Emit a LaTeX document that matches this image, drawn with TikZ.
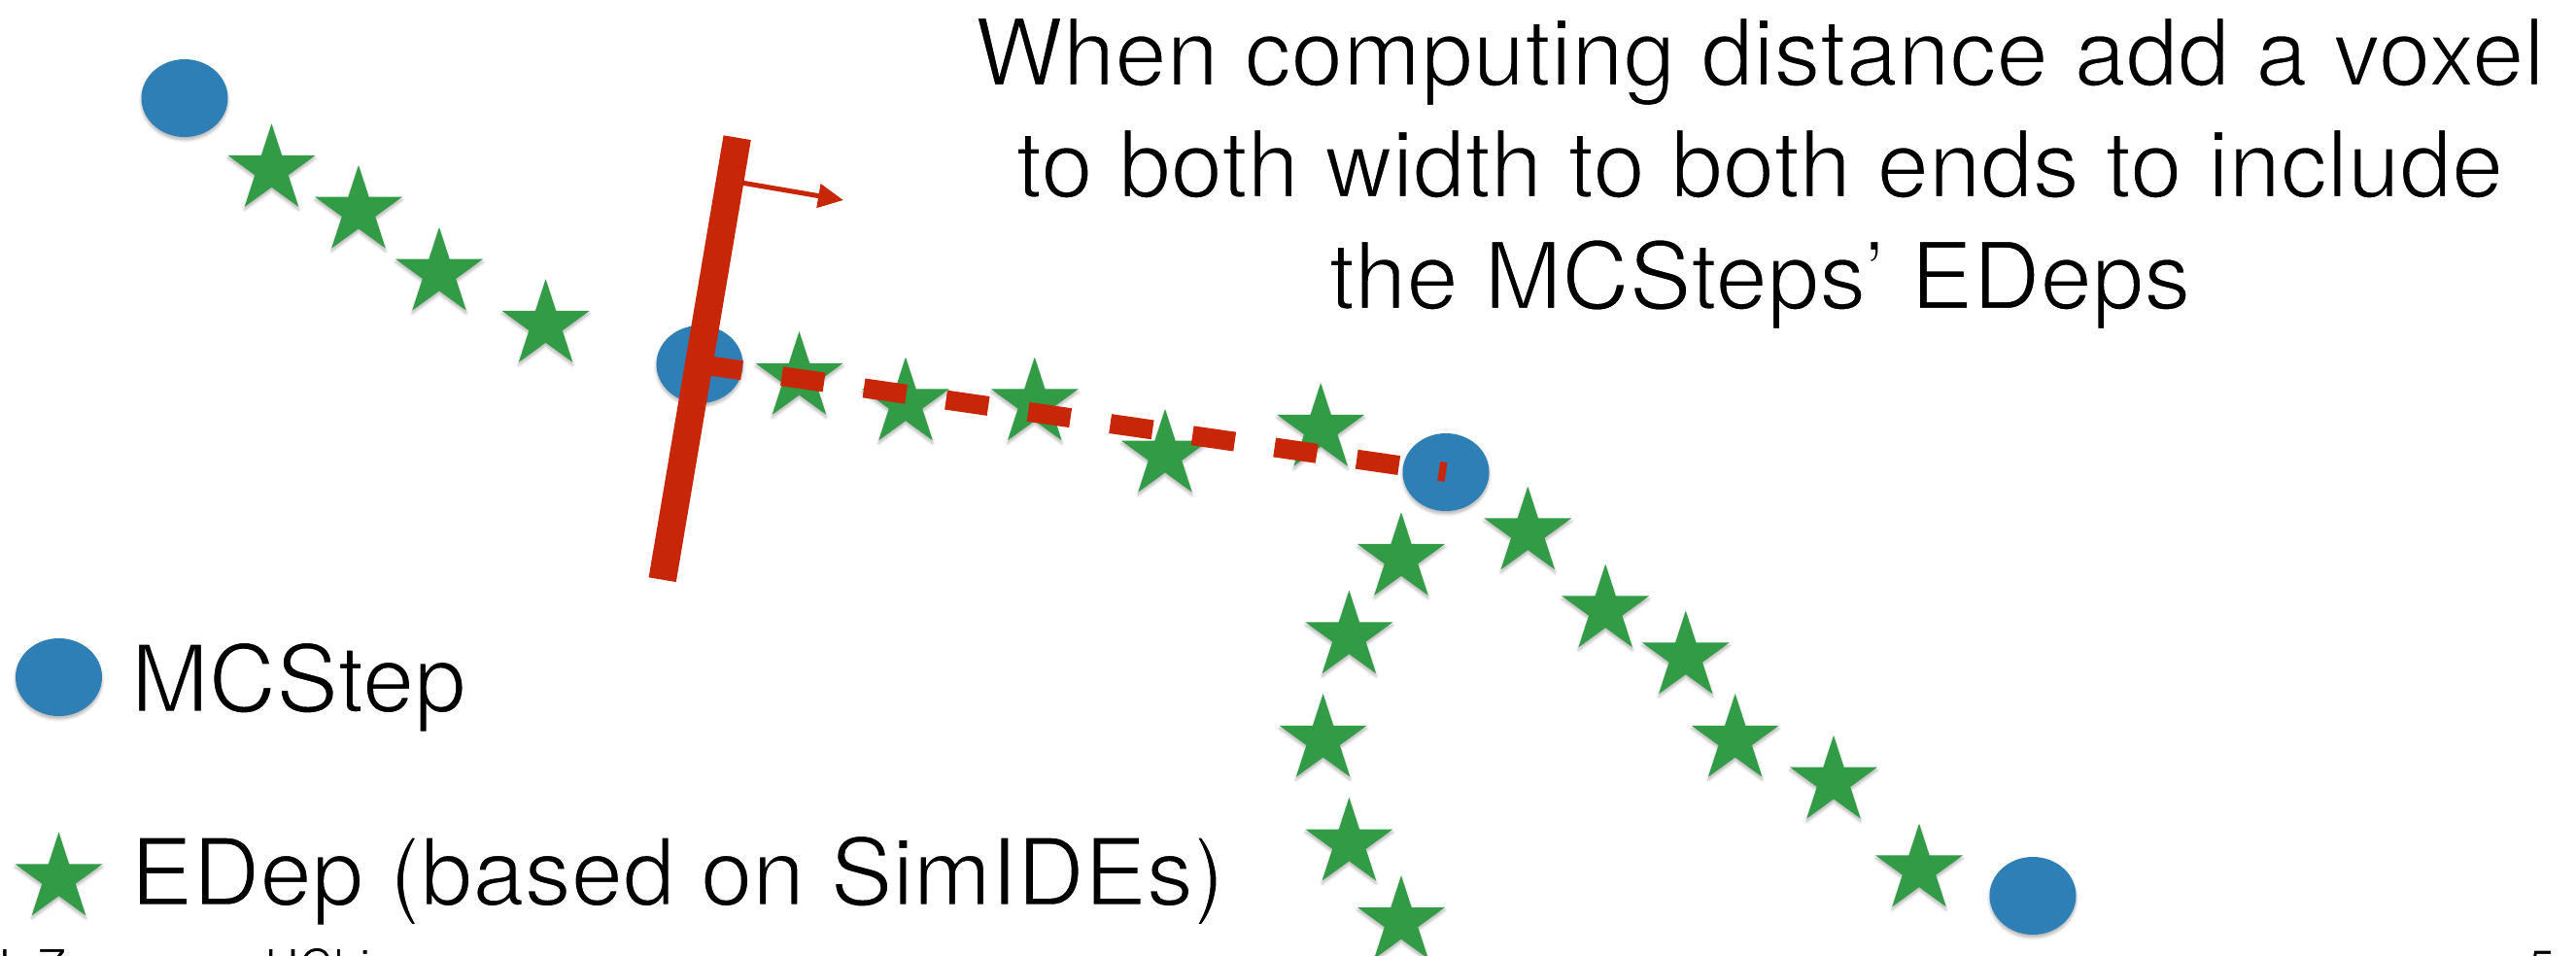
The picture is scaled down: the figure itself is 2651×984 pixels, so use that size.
\documentclass[tikz,border=0pt]{standalone}
\usepackage{fontspec}
\setmainfont{TeX Gyre Heros}
\usetikzlibrary{shapes.geometric,arrows.meta,shadows.blur}

\definecolor{stepblue}{RGB}{47,127,183}
\definecolor{edepgreen}{RGB}{49,155,70}
\definecolor{barred}{RGB}{199,39,8}

% light text: glyphs are filled, then their outlines are stroked in white,
% which trims the strokes to a lighter weight
\newcommand\lighttext[2]{\special{pdf:code 2 Tr 1 G #1 w}#2\special{pdf:code 0 Tr 0 G 0.4 w}}

\tikzset{
  softshadow/.style={blur shadow={shadow xshift=0pt, shadow yshift=-3pt,
      shadow blur radius=3pt, shadow blur steps=6, shadow opacity=30}},
  mcstep/.style={ellipse, fill=stepblue, minimum width=89pt,
      minimum height=80pt, inner sep=0pt, softshadow},
  edep/.style={star, star points=5, star point ratio=2.618, fill=edepgreen,
      minimum size=94.6pt, inner sep=0pt, softshadow},
  bigtext/.style={font=\fontsize{96}{115}\selectfont, inner sep=0pt},
  foottext/.style={font=\fontsize{49}{59}\selectfont, inner sep=0pt,
      anchor=base west},
  planebar/.style={draw=barred, line width=28.6pt},
  normalarrow/.style={draw=barred, line width=5pt,
      -{Triangle[length=26pt,width=24pt]}},
  voxelspan/.style={draw=barred, line width=20pt,
      dash pattern=on 44pt off 41.4pt},
}

\begin{document}
\begin{tikzpicture}[x=1pt, y=-1pt]
\useasboundingbox (0,0) rectangle (2651,984);
\clip (0,0) rectangle (2651,984);

% MC steps along the track
\node[mcstep] (m1) at (190,101) {};
\node[mcstep] (m2) at (720,375) {};
\node[mcstep] (m3) at (1488,486) {};
\node[mcstep] (m4) at (2092,922) {};

% energy deposits before the first plane
\node[edep] (e1) at (279.5,174.6) {};
\node[edep] (e2) at (369,217.3) {};
\node[edep] (e3) at (452,281.3) {};
\node[edep] (e4) at (561.6,334.6) {};

% energy deposits between the two steps
\node[edep] (e5) at (822.5,388.5) {};
\node[edep] (e6) at (932,415) {};
\node[edep] (e7) at (1064.8,415) {};
\node[edep] (e8) at (1199,468.3) {};
\node[edep] (e9) at (1359.2,441.5) {};

% left branch
\node[edep] (b1) at (1442,574.6) {};
\node[edep] (b2) at (1388.4,655) {};
\node[edep] (b3) at (1361.6,761.4) {};
\node[edep] (b4) at (1388.4,868.2) {};
\node[edep] (b5) at (1442,948.5) {};

% right branch
\node[edep] (c1) at (1572.3,548) {};
\node[edep] (c2) at (1652.2,628) {};
\node[edep] (c3) at (1734.8,676) {};
\node[edep] (c4) at (1785.7,761.4) {};
\node[edep] (c5) at (1887,804.3) {};
\node[edep] (c6) at (1975,895) {};

% plane through the step, with its normal
\coordinate (bartop) at (758.7,141.7);
\coordinate (barbot) at (681.7,596.7);
\coordinate (normfoot) at (751.2,186);
\coordinate (normtip) at (868,206);
\path[normalarrow] (normfoot) -- (normtip);
\path[planebar] (bartop) -- (barbot);

% distance between the two steps
\path[voxelspan] (m2.center) -- (m3.center);

% legend symbols
\node[mcstep] (lm) at (60.5,697) {};
\node[edep] (le) at (60.5,904) {};

% explanation
\node[bigtext, anchor=base] (t1) at (1811,88)
  {\lighttext{2}{When computing distance add a voxel}};
\node[bigtext, anchor=base] (t2) at (1811,203)
  {\lighttext{2}{to both width to both ends to include}};
\node[bigtext, anchor=base] (t3) at (1811,318)
  {\lighttext{2}{the MCSteps’ EDeps}};

% legend texts
\node[bigtext, anchor=base west] (lmt) at (134.6,732.7)
  {\lighttext{2}{MCStep}};
\node[bigtext, anchor=base west] (let) at (134,931.7)
  {\lighttext{2}{EDep (based on SimIDEs)}};

% footer
\node[foottext] (author) at (-14,1012) {\lighttext{1}{J. Zennamo, UChicago}};
\node[foottext] (page) at (2602,1012) {\lighttext{1}{5}};
\end{tikzpicture}
\end{document}
